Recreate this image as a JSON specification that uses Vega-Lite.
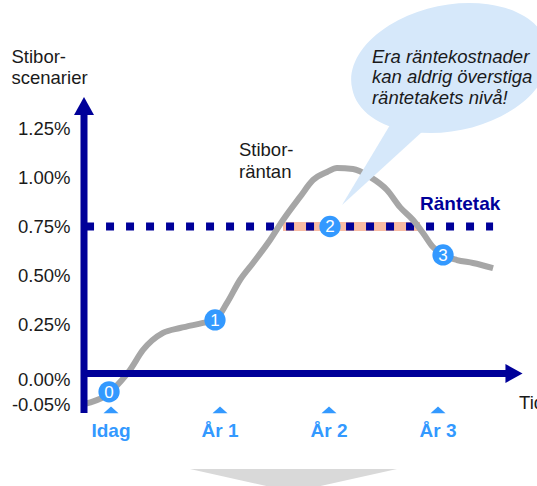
{
  "$schema": "https://vega.github.io/schema/vega-lite/v6.json",
  "width": 453,
  "height": 486,
  "autosize": {"type": "none"},
  "padding": {"left": 84, "top": 0, "right": 0, "bottom": 0},
  "background": "white",
  "config": {"view": {"stroke": null}, "font": "Liberation Sans"},
  "datasets": {
    "curve": [
      {"t": -0.2477, "y": -0.05}, {"t": -0.055, "y": -0.037}, {"t": 0.098, "y": -0.0112},
      {"t": 0.174, "y": 0.018}, {"t": 0.294, "y": 0.12}, {"t": 0.477, "y": 0.207},
      {"t": 0.633, "y": 0.232}, {"t": 0.844, "y": 0.258}, {"t": 0.954, "y": 0.273},
      {"t": 1.064, "y": 0.36}, {"t": 1.183, "y": 0.477}, {"t": 1.303, "y": 0.564},
      {"t": 1.459, "y": 0.681}, {"t": 1.578, "y": 0.783}, {"t": 1.734, "y": 0.901},
      {"t": 1.853, "y": 0.987}, {"t": 1.982, "y": 1.028}, {"t": 2.073, "y": 1.048},
      {"t": 2.22, "y": 1.043}, {"t": 2.376, "y": 1.003}, {"t": 2.532, "y": 0.936},
      {"t": 2.651, "y": 0.849}, {"t": 2.771, "y": 0.783}, {"t": 2.862, "y": 0.717},
      {"t": 2.954, "y": 0.645}, {"t": 3.046, "y": 0.605}, {"t": 3.174, "y": 0.579},
      {"t": 3.321, "y": 0.564}, {"t": 3.505, "y": 0.538}
    ],
    "cap": [{"t": -0.229, "t2": 3.505, "y": 0.75}],
    "above": [{"t": 1.578, "t2": 2.835, "y": 0.75}],
    "yaxis": [{"t": -0.2477, "y": -0.096, "y2": 1.33}],
    "xaxis": [{"t": -0.2477, "t2": 3.624, "y": 0}],
    "yarrow": [{"t": -0.2477, "y": 1.3648}],
    "xarrow": [{"t": 3.697, "y": 0}],
    "bubble": [{"t": 3.11, "y": 1.5587}],
    "down": [{"t": 1.674, "y": -0.4378}],
    "circles": [
      {"t": -0.018, "y": -0.03, "n": "0"},
      {"t": 0.954, "y": 0.273, "n": "1"},
      {"t": 2.009, "y": 0.75, "n": "2"},
      {"t": 3.046, "y": 0.605, "n": "3"}
    ],
    "tickMarks": [{"t": 0, "y": -0.0806}, {"t": 1, "y": -0.0806}, {"t": 2, "y": -0.0806}, {"t": 3, "y": -0.0806}],
    "tickLabels": [
      {"t": 0, "y": -0.2184, "label": "Idag"},
      {"t": 1, "y": -0.2184, "label": "År 1"},
      {"t": 2, "y": -0.2184, "label": "År 2"},
      {"t": 3, "y": -0.2184, "label": "År 3"}
    ],
    "bubbleText": [
      {"t": 2.394, "y": 1.584, "label": "Era räntekostnader"},
      {"t": 2.394, "y": 1.48, "label": "kan aldrig överstiga"},
      {"t": 2.394, "y": 1.375, "label": "räntetakets nivå!"}
    ],
    "plainText": [
      {"t": 1.174, "y": 1.11, "label": "Stibor-"},
      {"t": 1.174, "y": 0.997, "label": "räntan"},
      {"t": 3.743, "y": -0.0755, "label": "Tid"}
    ],
    "capText": [{"t": 2.835, "y": 0.834, "label": "Räntetak"}]
  },
  "encoding": {
    "x": {"field": "t", "type": "quantitative", "scale": {"domain": [-0.2477, 3.908], "nice": false, "zero": false}, "axis": null},
    "y": {
      "field": "y",
      "type": "quantitative",
      "scale": {"domain": [-0.4684, -0.05, 0, 1.9056], "range": [486, 404, 373.5, 0], "nice": false, "zero": false},
      "axis": {
        "values": [-0.05, 0, 0.25, 0.5, 0.75, 1, 1.25],
        "labelExpr": "(datum.value < 0 ? '-' : '') + format(abs(datum.value), '.2f') + '%'",
        "domain": false,
        "ticks": false,
        "tickSize": 0,
        "grid": false,
        "labelOverlap": false,
        "labelPadding": 14,
        "labelFontSize": 18.5,
        "labelColor": "#1a1a1a",
        "labelFont": "Liberation Sans",
        "labelOffset": {"condition": {"test": "datum.value == 0", "value": 6}, "value": 0},
        "title": ["Stibor-", "scenarier"],
        "titleAngle": 0,
        "titleAlign": "left",
        "titleBaseline": "alphabetic",
        "titleX": -73,
        "titleY": 62,
        "titleFont": "Liberation Sans",
        "titleFontSize": 18.5,
        "titleFontWeight": "normal",
        "titleColor": "#1a1a1a",
        "titleLineHeight": 21
      }
    }
  },
  "layer": [
    {
      "data": {"name": "down"},
      "mark": {"type": "point", "shape": "M-1,-0.106L1,-0.106L0,0.116Z", "size": 42849, "filled": true, "color": "#d9d9d9", "opacity": 1, "strokeWidth": 0}
    },
    {
      "data": {"name": "above"},
      "mark": {"type": "rule", "color": "#f7bba3", "strokeWidth": 9},
      "encoding": {"x2": {"field": "t2"}}
    },
    {
      "data": {"name": "cap"},
      "mark": {"type": "rule", "color": "#000099", "strokeWidth": 8, "strokeDash": [8, 12], "strokeCap": "butt"},
      "encoding": {"x2": {"field": "t2"}}
    },
    {
      "data": {"name": "curve"},
      "mark": {"type": "line", "color": "#a6a6a6", "strokeWidth": 6, "interpolate": "monotone"}
    },
    {
      "data": {"name": "bubble"},
      "mark": {"type": "point", "shape": "M0.978,-0.208A1,0.62,-12,1,1,-0.978,0.208A1,0.62,-12,1,1,0.978,-0.208Z", "size": 40000, "filled": true, "color": "#d6e8fa", "opacity": 1, "strokeWidth": 0}
    },
    {
      "data": {"name": "bubble"},
      "mark": {"type": "point", "shape": "M-1.08,1.37L-0.51,0.42L-0.04,0.42Z", "size": 40000, "filled": true, "color": "#d6e8fa", "opacity": 1, "strokeWidth": 0}
    },
    {
      "data": {"name": "yaxis"},
      "mark": {"type": "rule", "color": "#000099", "strokeWidth": 7},
      "encoding": {"y2": {"field": "y2"}}
    },
    {
      "data": {"name": "xaxis"},
      "mark": {"type": "rule", "color": "#000099", "strokeWidth": 7},
      "encoding": {"x2": {"field": "t2"}}
    },
    {
      "data": {"name": "yarrow"},
      "mark": {"type": "point", "shape": "M0,-0.9L1,0.9L-1,0.9Z", "size": 400, "filled": true, "color": "#000099", "opacity": 1, "strokeWidth": 0}
    },
    {
      "data": {"name": "xarrow"},
      "mark": {"type": "point", "shape": "M0.9,0L-0.9,-1L-0.9,1Z", "size": 361, "filled": true, "color": "#000099", "opacity": 1, "strokeWidth": 0}
    },
    {
      "data": {"name": "circles"},
      "mark": {"type": "circle", "size": 452, "color": "#3399ff", "opacity": 1}
    },
    {
      "data": {"name": "circles"},
      "mark": {"type": "text", "color": "white", "fontSize": 17, "font": "Liberation Sans", "align": "center", "baseline": "middle", "dy": 1},
      "encoding": {"text": {"field": "n"}}
    },
    {
      "data": {"name": "tickMarks"},
      "mark": {"type": "point", "shape": "M-1,0.45L0,-0.45L1,0.45Z", "size": 225, "filled": true, "color": "#3399ff", "opacity": 1, "strokeWidth": 0}
    },
    {
      "data": {"name": "tickLabels"},
      "mark": {"type": "text", "color": "#3399ff", "fontSize": 19, "fontWeight": "bold", "font": "Liberation Sans", "align": "center", "baseline": "alphabetic"},
      "encoding": {"text": {"field": "label"}}
    },
    {
      "data": {"name": "bubbleText"},
      "mark": {"type": "text", "color": "#1a1a1a", "fontSize": 18.5, "fontStyle": "italic", "font": "Liberation Sans", "align": "left", "baseline": "alphabetic"},
      "encoding": {"text": {"field": "label"}}
    },
    {
      "data": {"name": "plainText"},
      "mark": {"type": "text", "color": "#1a1a1a", "fontSize": 18.5, "font": "Liberation Sans", "align": "left", "baseline": "alphabetic"},
      "encoding": {"text": {"field": "label"}}
    },
    {
      "data": {"name": "capText"},
      "mark": {"type": "text", "color": "#000099", "fontSize": 19, "fontWeight": "bold", "font": "Liberation Sans", "align": "left", "baseline": "alphabetic"},
      "encoding": {"text": {"field": "label"}}
    }
  ]
}
